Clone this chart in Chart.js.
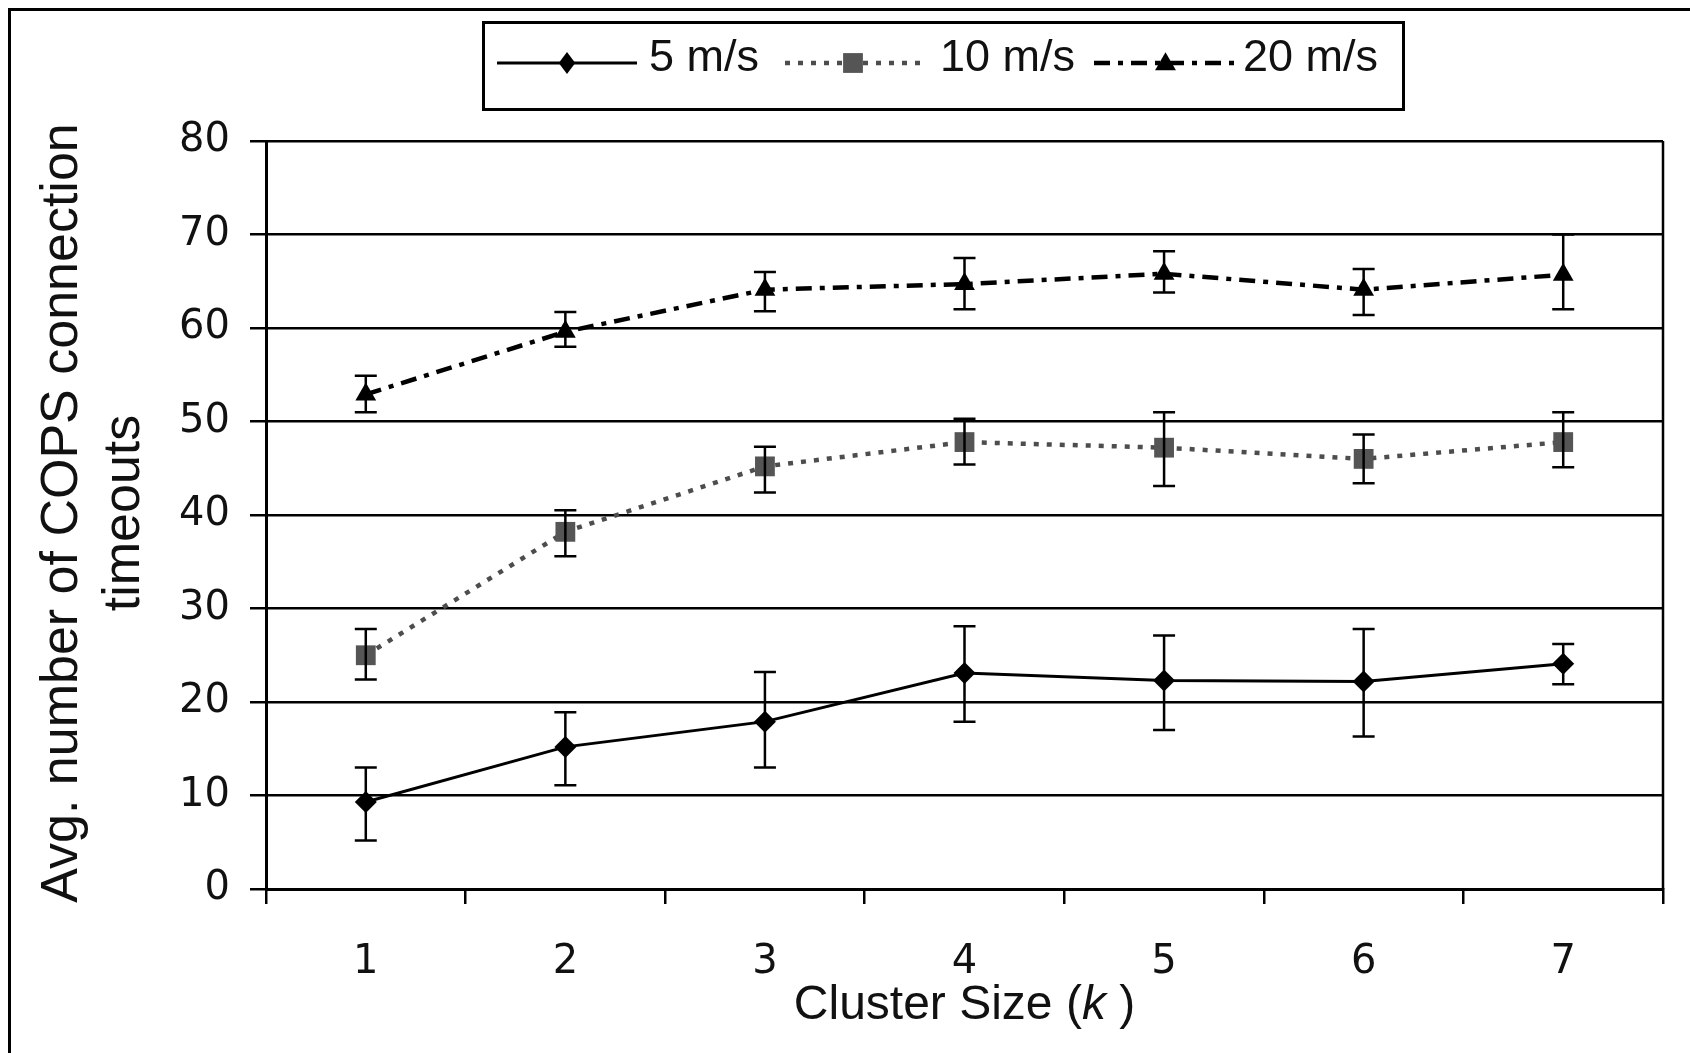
<!DOCTYPE html>
<html>
<head>
<meta charset="utf-8">
<script src="https://cdn.jsdelivr.net/npm/chart.js@4/dist/chart.umd.min.js"></script>
<style>
  body { margin: 0; background: #fff; }
  #wrap { width: 1690px; height: 1053px; }
</style>
</head>
<body>
<div id="wrap"><canvas id="myChart" width="1690" height="1053"></canvas></div>
<script>
// cluster sizes (k)
const categories = ['1', '2', '3', '4', '5', '6', '7'];

// avg. number of COPS connection timeouts, with error bar bounds
const speed5 = [9.3, 15.2, 17.9, 23.1, 22.3, 22.2, 24.1];
const speed5Lo = [5.2, 11.1, 13.0, 17.9, 17.0, 16.3, 21.9];
const speed5Hi = [13.0, 18.9, 23.2, 28.1, 27.1, 27.8, 26.2];

const speed10 = [25.0, 38.2, 45.2, 47.8, 47.2, 46.0, 47.8];
const speed10Lo = [22.4, 35.6, 42.4, 45.4, 43.1, 43.4, 45.1];
const speed10Hi = [27.8, 40.5, 47.3, 50.3, 51.0, 48.6, 51.0];

const speed20 = [52.9, 59.6, 64.1, 64.7, 65.8, 64.1, 65.7];
const speed20Lo = [51.0, 58.0, 61.8, 62.0, 63.8, 61.4, 62.0];
const speed20Hi = [54.9, 61.7, 66.0, 67.5, 68.2, 66.3, 70.0];

const seriesLabels = ['5 m/s', '10 m/s', '20 m/s'];
const yMin = 0, yMax = 80, yStep = 10;

// draws a marker like chart.js does
function drawMarker(ctx, style, x, y, r, color) {
    ctx.save();
    ctx.fillStyle = color;
    ctx.beginPath();
    if (style === 'rectRot') {
        ctx.moveTo(x, y - r);
        ctx.lineTo(x + r * 0.75, y);
        ctx.lineTo(x, y + r);
        ctx.lineTo(x - r * 0.75, y);
    } else if (style === 'rect') {
        const s = r * Math.SQRT1_2;
        ctx.rect(x - s, y - s, 2 * s, 2 * s);
    } else {
        const h = r * 1.5;
        ctx.moveTo(x, y - h * 0.6);
        ctx.lineTo(x + r * 0.87, y + h * 0.4);
        ctx.lineTo(x - r * 0.87, y + h * 0.4);
    }
    ctx.closePath();
    ctx.fill();
    ctx.restore();
}

const errorBars = {
    id: 'errorBars',
    afterDatasetsDraw(chart) {
        const ctx = chart.ctx;
        const yScale = chart.scales.y;
        ctx.save();
        ctx.strokeStyle = '#000';
        ctx.lineWidth = 2.5;
        chart.data.datasets.forEach((ds, i) => {
            const meta = chart.getDatasetMeta(i);
            meta.data.forEach((pt, j) => {
                const yLo = yScale.getPixelForValue(ds.errLo[j]);
                const yHi = yScale.getPixelForValue(ds.errHi[j]);
                ctx.beginPath();
                ctx.moveTo(pt.x, yLo); ctx.lineTo(pt.x, yHi);
                ctx.moveTo(pt.x - 11, yLo); ctx.lineTo(pt.x + 11, yLo);
                ctx.moveTo(pt.x - 11, yHi); ctx.lineTo(pt.x + 11, yHi);
                ctx.stroke();
            });
        });
        ctx.restore();
    }
};

const decorations = {
    id: 'decorations',
    afterDraw(chart) {
        const ctx = chart.ctx;
        const area = chart.chartArea;
        ctx.save();
        // outer frame (left and top edges visible)
        ctx.strokeStyle = '#000';
        ctx.lineWidth = 3;
        ctx.beginPath();
        ctx.moveTo(9.5, 1053); ctx.lineTo(9.5, 9.5); ctx.lineTo(1690, 9.5);
        ctx.stroke();
        // right edge of plot area
        ctx.lineWidth = 2.5;
        ctx.beginPath();
        ctx.moveTo(area.right, area.top); ctx.lineTo(area.right, area.bottom);
        ctx.stroke();

        // y title
        ctx.fillStyle = '#111';
        ctx.font = '52px "Liberation Sans", Arial, sans-serif';
        ctx.textAlign = 'center';
        ctx.textBaseline = 'middle';
        const cy = (area.top + area.bottom) / 2 - 2;
        ctx.save();
        ctx.translate(63, cy);
        ctx.rotate(-Math.PI / 2);
        ctx.fillText('Avg. number of COPS connection', 0, 0);
        ctx.restore();
        ctx.save();
        ctx.translate(125, cy);
        ctx.rotate(-Math.PI / 2);
        ctx.fillText('timeouts', 0, 0);
        ctx.restore();

        // x title with italic k
        const cx = (area.left + area.right) / 2;
        const partA = 'Cluster Size (', partK = 'k', partC = ' )';
        const fNorm = '48px "Liberation Sans", Arial, sans-serif';
        const fIt = 'italic 48px "Liberation Sans", Arial, sans-serif';
        ctx.font = fNorm;
        const wA = ctx.measureText(partA).width, wC = ctx.measureText(partC).width;
        ctx.font = fIt;
        const wK = ctx.measureText(partK).width;
        let x = cx - (wA + wK + wC) / 2;
        const ty = 1006;
        ctx.textAlign = 'left';
        ctx.font = fNorm; ctx.fillText(partA, x, ty); x += wA;
        ctx.font = fIt; ctx.fillText(partK, x, ty); x += wK;
        ctx.font = fNorm; ctx.fillText(partC, x, ty);

        // legend box
        ctx.lineWidth = 3;
        ctx.strokeRect(483.5, 22.5, 920, 87);
        const slots = [
            { x0: 497, x1: 637, tx: 649 },
            { x0: 785, x1: 921, tx: 940 },
            { x0: 1094, x1: 1237, tx: 1243 }
        ];
        ctx.font = '45px "Liberation Sans", Arial, sans-serif';
        chart.data.datasets.forEach((ds, i) => {
            const s = slots[i];
            const ly = 63;
            ctx.save();
            ctx.strokeStyle = ds.borderColor;
            ctx.lineWidth = ds.borderWidth;
            ctx.setLineDash(ds.borderDash || []);
            ctx.beginPath();
            ctx.moveTo(s.x0, ly); ctx.lineTo(s.x1, ly);
            ctx.stroke();
            ctx.restore();
            drawMarker(ctx, ds.pointStyle, (s.x0 + s.x1) / 2, ly, ds.pointRadius, ds.pointBackgroundColor);
            ctx.fillStyle = '#111';
            ctx.textBaseline = 'middle';
            ctx.fillText(ds.label, s.tx, 59);
        });
        ctx.restore();
    }
};

const myChartRef = document.getElementById('myChart').getContext('2d');

new Chart(myChartRef, {
    type: 'line',
    data: {
        labels: categories,
        datasets: [
            {
                label: seriesLabels[0],
                data: speed5,
                errLo: speed5Lo,
                errHi: speed5Hi,
                borderColor: '#000',
                borderWidth: 3,
                pointStyle: 'rectRot',
                pointRadius: 11,
                pointBackgroundColor: '#000',
                pointBorderWidth: 0,
                fill: false
            },
            {
                label: seriesLabels[1],
                data: speed10,
                errLo: speed10Lo,
                errHi: speed10Hi,
                borderColor: '#4d4d4d',
                borderWidth: 4.5,
                borderDash: [5, 8],
                pointStyle: 'rect',
                pointRadius: 14,
                pointBackgroundColor: '#555',
                pointBorderWidth: 0,
                fill: false
            },
            {
                label: seriesLabels[2],
                data: speed20,
                errLo: speed20Lo,
                errHi: speed20Hi,
                borderColor: '#000',
                borderWidth: 4.5,
                borderDash: [16, 8, 5, 8],
                pointStyle: 'triangle',
                pointRadius: 12,
                pointBackgroundColor: '#000',
                pointBorderWidth: 0,
                fill: false
            }
        ]
    },
    options: {
        responsive: false,
        animation: false,
        devicePixelRatio: 1,
        layout: { padding: { top: 141, right: 27, left: 0, bottom: 0 } },
        plugins: {
            legend: { display: false },
            tooltip: { enabled: false }
        },
        scales: {
            x: {
                offset: true,
                grid: {
                    offset: true,
                    drawOnChartArea: false,
                    drawTicks: true,
                    tickLength: 15,
                    color: '#000',
                    lineWidth: 2.5
                },
                border: { display: true, color: '#000', width: 3 },
                ticks: {
                    color: '#111',
                    padding: 35,
                    font: { family: '"DejaVu Sans"', size: 40 }
                },
                afterFit(scale) { scale.height = 164; }
            },
            y: {
                min: yMin,
                max: yMax,
                grid: {
                    color: '#000',
                    lineWidth: 2.5,
                    tickLength: 16
                },
                border: { display: true, color: '#000', width: 3 },
                ticks: {
                    stepSize: yStep,
                    color: '#111',
                    padding: 20,
                    font: { family: '"DejaVu Sans"', size: 40 }
                },
                afterFit(scale) { scale.width = 266; }
            }
        }
    },
    plugins: [errorBars, decorations]
});
</script>
</body>
</html>
